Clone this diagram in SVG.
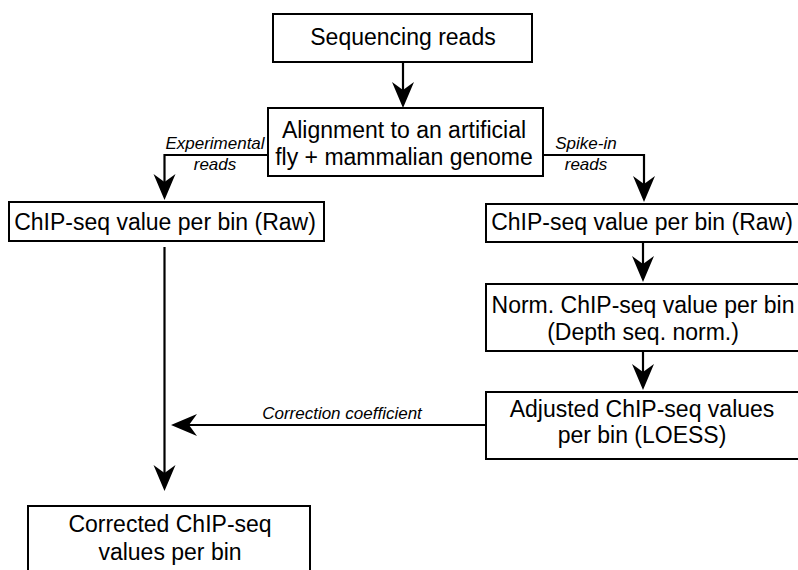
<svg xmlns="http://www.w3.org/2000/svg" width="798" height="570" viewBox="0 0 798 570">
  <style>
    .box { fill: #ffffff; stroke: #000000; stroke-width: 2; }
    .lbl { font-family: "Liberation Sans", Arial, sans-serif; font-size: 23px; fill: #000000; text-anchor: middle; }
    .edge { fill: none; stroke: #000000; stroke-width: 2.2; }
    .elbl { font-family: "Liberation Sans", Arial, sans-serif; font-size: 17px; font-style: italic; fill: #000000; text-anchor: middle; }
  </style>
  <defs>
    <marker id="arrow" markerUnits="userSpaceOnUse" markerWidth="28" markerHeight="24" viewBox="0 0 28 24" refX="8" refY="11" orient="auto">
      <path d="M0,0 L26,11 L0,22 L8,11 Z" fill="#000000"/>
    </marker>
  </defs>
  <rect width="798" height="570" fill="#ffffff"/>

  <g id="connectors">
    <path class="edge" d="M403,62 V90" marker-end="url(#arrow)"/>
    <path class="edge" d="M268,155 H164.5 V182" marker-end="url(#arrow)"/>
    <path class="edge" d="M543,155 H644 V184" marker-end="url(#arrow)"/>
    <path class="edge" d="M643,242 V264" marker-end="url(#arrow)"/>
    <path class="edge" d="M643,351 V372" marker-end="url(#arrow)"/>
    <path class="edge" d="M486,425 H189" marker-end="url(#arrow)"/>
    <path class="edge" d="M164.5,247 V473" marker-end="url(#arrow)"/>
    <text class="elbl" x="215" y="149">Experimental</text>
    <text class="elbl" x="215" y="170">reads</text>
    <text class="elbl" x="586" y="149">Spike-in</text>
    <text class="elbl" x="586" y="170">reads</text>
    <text class="elbl" x="342" y="419">Correction coefficient</text>
  </g>

  <g id="sequencing-reads">
    <rect class="box" x="273" y="14" width="259" height="48"/>
    <text class="lbl" x="403" y="45">Sequencing reads</text>
  </g>

  <g id="alignment">
    <rect class="box" x="268" y="108" width="275" height="68"/>
    <text class="lbl" x="404" y="138">Alignment to an artificial</text>
    <text class="lbl" x="404" y="165">fly + mammalian genome</text>
  </g>

  <g id="raw-experimental">
    <rect class="box" x="9" y="202" width="315" height="39"/>
    <text class="lbl" x="165" y="230">ChIP-seq value per bin (Raw)</text>
  </g>

  <g id="raw-spike-in">
    <rect class="box" x="486" y="204" width="314" height="38"/>
    <text class="lbl" x="642" y="230">ChIP-seq value per bin (Raw)</text>
  </g>

  <g id="depth-normalised">
    <rect class="box" x="486" y="284" width="314" height="67"/>
    <text class="lbl" x="643" y="313">Norm. ChIP-seq value per bin</text>
    <text class="lbl" x="643" y="340">(Depth seq. norm.)</text>
  </g>

  <g id="loess-adjusted">
    <rect class="box" x="486" y="392" width="314" height="67"/>
    <text class="lbl" x="642" y="417">Adjusted ChIP-seq values</text>
    <text class="lbl" x="642" y="443">per bin (LOESS)</text>
  </g>

  <g id="corrected">
    <rect class="box" x="28" y="506" width="282" height="80"/>
    <text class="lbl" x="170" y="532">Corrected ChIP-seq</text>
    <text class="lbl" x="170" y="560">values per bin</text>
  </g>
</svg>
